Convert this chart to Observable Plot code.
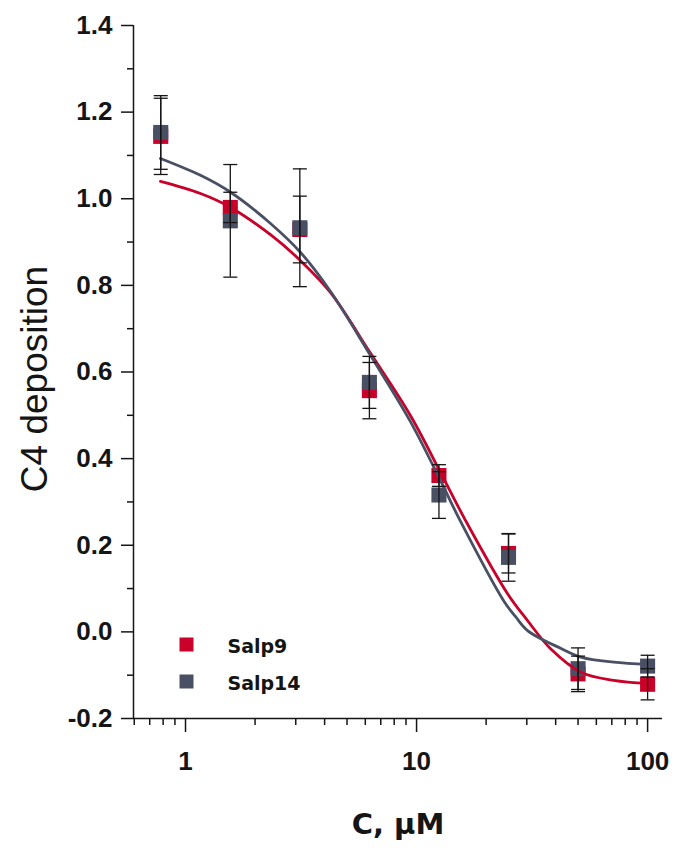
<!DOCTYPE html>
<html><head><meta charset="utf-8">
<script src="https://cdn.jsdelivr.net/npm/d3@7"></script>
<script src="https://cdn.jsdelivr.net/npm/@observablehq/plot@0.6"></script>
<style>body{margin:0;background:#fff}</style>
</head><body><div id="chart"></div>
<script>
// Measured data (concentration in µM)
const conc = [0.78125, 1.5625, 3.125, 6.25, 12.5, 25, 50, 100];
const salp9 = [1.144, 0.980, 0.929, 0.557, 0.361, 0.181, -0.097, -0.121];
const salp9Err = [0.088, 0.035, 0.077, 0.065, 0.025, 0.045, 0.041, 0.036];
const salp14 = [1.153, 0.949, 0.933, 0.576, 0.316, 0.172, -0.085, -0.079];
const salp14Err = [0.085, 0.130, 0.136, 0.060, 0.054, 0.055, 0.048, 0.025];

// Fitted curves
const fit9Conc = [0.779, 1.161, 1.566, 2.333, 3.147, 4.244, 6.323, 9.42, 12.70, 16.30, 24.77, 30.23, 38.03, 51.8, 71.3, 100];
const fit9 = [1.040, 1.012, 0.980, 0.917, 0.857, 0.783, 0.643, 0.499, 0.368, 0.257, 0.088, 0.026, -0.039, -0.094, -0.112, -0.119];
const fit14Conc = [0.779, 1.161, 1.566, 2.333, 3.147, 4.244, 6.323, 9.42, 12.70, 15.50, 23.81, 26.83, 30.23, 42.02, 51.8, 71.3, 100];
const fit14 = [1.093, 1.054, 1.015, 0.943, 0.876, 0.786, 0.638, 0.485, 0.349, 0.255, 0.072, 0.035, 0.003, -0.038, -0.059, -0.070, -0.075];

const seriesNames = ["Salp9", "Salp14"];
const xMajor = [1, 10, 100];
const xMinor = [0.6, 0.7, 0.8, 0.9, 2, 3, 4, 5, 6, 7, 8, 9, 20, 30, 40, 50, 60, 70, 80, 90];
const yMajor = [-0.2, 0, 0.2, 0.4, 0.6, 0.8, 1.0, 1.2, 1.4];
const yMinor = [-0.1, 0.1, 0.3, 0.5, 0.7, 0.9, 1.1, 1.3];
const xDomain = [0.5955, 116];
const yDomain = [-0.2, 1.4];

const RED = "#c8002a";
const GRAY = "#4a5064";
const INK = "#151515";

const pts9 = conc.map((c, i) => ({c, v: salp9[i], e: salp9Err[i]}));
const pts14 = conc.map((c, i) => ({c, v: salp14[i], e: salp14Err[i]}));
const curve9 = fit9Conc.map((c, i) => ({c, v: fit9[i]}));
const curve14 = fit14Conc.map((c, i) => ({c, v: fit14[i]}));

const capSymbol = {draw(ctx, size) { const w = Math.sqrt(size / Math.PI); ctx.moveTo(-w, 0); ctx.lineTo(w, 0); }};

function errMarks(pts) {
  return [
    Plot.ruleX(pts, {x: "c", y1: d => d.v - d.e, y2: d => d.v + d.e, stroke: INK, strokeWidth: 1.3}),
    Plot.dot(pts, {x: "c", y: d => d.v + d.e, symbol: capSymbol, r: 7, stroke: INK, strokeWidth: 1.3, fill: "none"}),
    Plot.dot(pts, {x: "c", y: d => d.v - d.e, symbol: capSymbol, r: 7, stroke: INK, strokeWidth: 1.3, fill: "none"})
  ];
}

const tickFont = {fontFamily: "Liberation Sans", fontSize: 26, fontWeight: "bold", fill: INK};

const chart = Plot.plot({
  width: 675,
  height: 848,
  marginLeft: 133,
  marginRight: 13,
  marginTop: 25,
  marginBottom: 130,
  style: {fontFamily: "Liberation Sans", background: "#fff", color: INK},
  x: {type: "log", domain: xDomain},
  y: {domain: yDomain},
  marks: [
    Plot.ruleX([xDomain[0]], {stroke: INK, strokeWidth: 1.5}),
    Plot.ruleY([yDomain[0]], {stroke: INK, strokeWidth: 1.5}),
    Plot.axisX(xMajor, {anchor: "bottom", tickSize: 14, tickPadding: 19, label: null, tickFormat: d => `${d}`, stroke: INK, strokeWidth: 1.5, ...tickFont}),
    Plot.axisX(xMinor, {anchor: "bottom", tickSize: 7, label: null, tickFormat: () => "", stroke: INK, strokeWidth: 1.5}),
    Plot.axisY(yMajor, {anchor: "left", tickSize: 12, tickPadding: 9, label: null, tickFormat: d => d.toFixed(1), stroke: INK, strokeWidth: 1.5, ...tickFont}),
    Plot.axisY(yMinor, {anchor: "left", tickSize: 6, label: null, tickFormat: () => "", stroke: INK, strokeWidth: 1.5}),
    Plot.dot(pts9, {x: "c", y: "v", symbol: "square", r: 8.5, fill: RED, stroke: "none"}),
    Plot.dot(pts14, {x: "c", y: "v", symbol: "square", r: 8.5, fill: GRAY, stroke: "none"}),
    Plot.line(curve9, {x: "c", y: "v", curve: "catmull-rom", stroke: RED, strokeWidth: 2.8}),
    Plot.line(curve14, {x: "c", y: "v", curve: "catmull-rom", stroke: GRAY, strokeWidth: 2.8}),
    ...errMarks(pts9),
    ...errMarks(pts14),
    // legend
    Plot.dot([seriesNames[0]], {frameAnchor: "bottom-left", dx: 53, dy: -74, symbol: "square", r: 7.9, fill: RED, stroke: "none"}),
    Plot.dot([seriesNames[1]], {frameAnchor: "bottom-left", dx: 53, dy: -37, symbol: "square", r: 7.9, fill: GRAY, stroke: "none"}),
    Plot.text([seriesNames[0]], {text: d => d, frameAnchor: "bottom-left", dx: 94, dy: -72, textAnchor: "start", lineAnchor: "middle", fontFamily: "DejaVu Sans", fontSize: 19, fontWeight: "bold", fill: INK}),
    Plot.text([seriesNames[1]], {text: d => d, frameAnchor: "bottom-left", dx: 94, dy: -35, textAnchor: "start", lineAnchor: "middle", fontFamily: "DejaVu Sans", fontSize: 19, fontWeight: "bold", fill: INK}),
    // axis titles
    Plot.text(["C4 deposition"], {text: d => d, frameAnchor: "left", textAnchor: "middle", lineAnchor: "middle", rotate: -90, dx: -98, dy: 7, fontFamily: "Liberation Sans", fontSize: 37, fontWeight: "normal", fill: INK}),
    Plot.text(["C, μM"], {text: d => d, frameAnchor: "bottom", textAnchor: "middle", lineAnchor: "bottom", dy: 115, fontFamily: "DejaVu Sans", fontSize: 29, fontWeight: "bold", fill: INK})
  ]
});
document.getElementById("chart").appendChild(chart);
</script>
</body></html>
